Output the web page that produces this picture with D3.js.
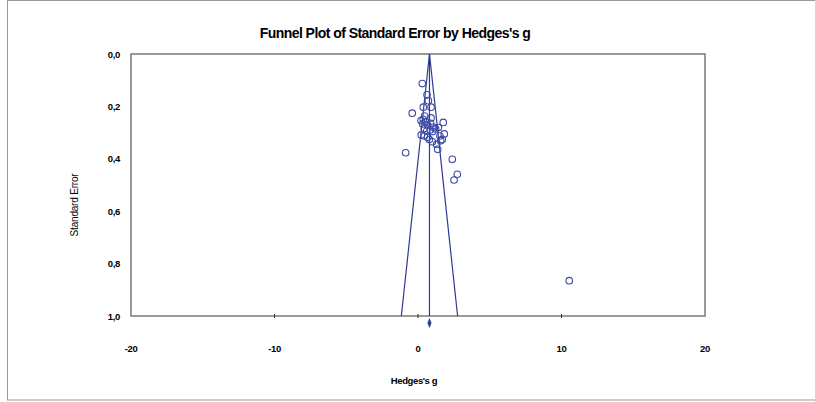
<!DOCTYPE html>
<html>
<head>
<meta charset="utf-8">
<script src="https://cdn.jsdelivr.net/npm/d3@7"></script>
<style>
  html, body { margin: 0; padding: 0; background: #fff; }
  svg { display: block; font-family: "Liberation Sans", Arial, sans-serif; }
</style>
</head>
<body>
<svg id="chart" width="815" height="402"></svg>
<script>
// ---- Data ----
const hedgesG = [0.30, 0.63, 0.72, 0.37, 0.91, -0.40, 0.46, 0.91, 0.21, 0.37, 0.53, 0.33, 0.67, 0.88, 1.07, 1.23, 1.42, 1.76, 0.44, 0.61, 0.84, 1.02, 0.23, 0.44, 0.67, 0.79, 1.00, 1.53, 1.83, 1.69, 1.58, 1.30, 1.37, -0.86, 2.39, 2.74, 2.51, 10.54];
const stdError = [0.113, 0.156, 0.178, 0.203, 0.203, 0.226, 0.237, 0.244, 0.254, 0.249, 0.258, 0.267, 0.271, 0.265, 0.280, 0.286, 0.281, 0.261, 0.284, 0.294, 0.290, 0.296, 0.309, 0.313, 0.318, 0.326, 0.335, 0.313, 0.305, 0.326, 0.331, 0.345, 0.364, 0.377, 0.402, 0.459, 0.481, 0.865];
const summaryEffect = 0.8;
const zCrit = 1.96;
const xTicks = [-20, -10, 0, 10, 20];
const yTicks = [0, 0.2, 0.4, 0.6, 0.8, 1.0];
const titleText = "Funnel Plot of Standard Error by Hedges's g";
const xTitle = "Hedges's g";
const yTitle = "Standard Error";

// ---- Layout ----
const svg = d3.select("#chart");
const plot = { left: 131, right: 705, top: 54, bottom: 316 };
const x = d3.scaleLinear().domain([-20, 20]).range([plot.left, plot.right]);
const y = d3.scaleLinear().domain([0, 1]).range([plot.top, plot.bottom]);
const blue = "#2e3a94";
const fmt = d => d3.format(".1f")(d).replace(".", ",");

// outer border
svg.append("rect").attr("x", 7.5).attr("y", 0.5).attr("width", 815).attr("height", 399.5)
  .attr("fill", "none").attr("stroke", "#9a9a9a").attr("stroke-width", 1);

// title
svg.append("text").attr("x", 395).attr("y", 38).attr("text-anchor", "middle")
  .attr("font-size", 14).attr("font-weight", "bold").attr("letter-spacing", -0.55)
  .attr("fill", "#000").text(titleText);

// plot frame
svg.append("rect").attr("x", plot.left).attr("y", plot.top)
  .attr("width", plot.right - plot.left).attr("height", plot.bottom - plot.top)
  .attr("fill", "none").attr("stroke", "#7a7a7a").attr("stroke-width", 1.5);

// x ticks (small marks on bottom axis)
svg.append("g").selectAll("line").data(xTicks.slice(1, -1)).join("line")
  .attr("x1", d => x(d)).attr("x2", d => x(d))
  .attr("y1", plot.bottom - 2).attr("y2", plot.bottom + 2)
  .attr("stroke", "#333").attr("stroke-width", 1);

// x tick labels
svg.append("g").selectAll("text").data(xTicks).join("text")
  .attr("x", d => x(d)).attr("y", 352).attr("text-anchor", "middle")
  .attr("font-size", 9.5).attr("font-weight", "bold").attr("letter-spacing", -0.4)
  .text(d => d);

// y tick labels
svg.append("g").selectAll("text").data(yTicks).join("text")
  .attr("x", 120).attr("y", d => y(d) + 3.5).attr("text-anchor", "end")
  .attr("font-size", 9.5).attr("font-weight", "bold").attr("letter-spacing", -0.3)
  .text(d => fmt(d));

// axis titles
svg.append("text").attr("x", 414).attr("y", 384).attr("text-anchor", "middle")
  .attr("font-size", 9.5).attr("font-weight", "bold").attr("letter-spacing", -0.4)
  .text(xTitle);
svg.append("text").attr("transform", "translate(78,205) rotate(-90)").attr("text-anchor", "middle")
  .attr("font-size", 10).attr("letter-spacing", -0.2)
  .text(yTitle);

// funnel
const funnel = svg.append("g").attr("stroke", blue).attr("stroke-width", 1.2).attr("fill", "none");
funnel.append("line").attr("x1", x(summaryEffect)).attr("y1", y(0))
  .attr("x2", x(summaryEffect)).attr("y2", y(1));
funnel.append("line").attr("x1", x(summaryEffect)).attr("y1", y(0))
  .attr("x2", x(summaryEffect - zCrit * 1)).attr("y2", y(1));
funnel.append("line").attr("x1", x(summaryEffect)).attr("y1", y(0))
  .attr("x2", x(summaryEffect + zCrit * 1)).attr("y2", y(1));

// summary diamond below axis
const cx = x(summaryEffect), cy = 323;
svg.append("path")
  .attr("d", `M${cx},${cy - 4.5} L${cx + 1.8},${cy} L${cx},${cy + 4.5} L${cx - 1.8},${cy} Z`)
  .attr("fill", blue).attr("stroke", blue).attr("stroke-width", 0.5);

// studies
svg.append("g").selectAll("circle").data(hedgesG.map((g, i) => ({ g, se: stdError[i] }))).join("circle")
  .attr("cx", d => x(d.g)).attr("cy", d => y(d.se)).attr("r", 3.3)
  .attr("fill", "none").attr("stroke", "#3c4aa8").attr("stroke-width", 1.1);
</script>
</body>
</html>
